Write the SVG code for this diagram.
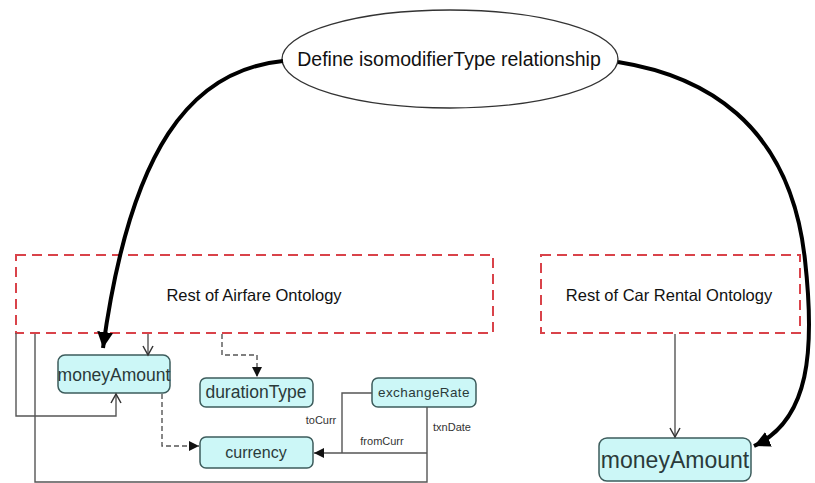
<svg xmlns="http://www.w3.org/2000/svg" width="815" height="483" viewBox="0 0 815 483">
<defs>
<style>
.node rect{fill:#ccf7f7;stroke:#3d5c5c;stroke-width:1.5}
.lbl{font-family:"Liberation Sans",Arial,sans-serif;fill:#2a3a3a;text-anchor:middle}
.small{font-family:"Liberation Sans",Arial,sans-serif;font-size:11px;fill:#333;text-anchor:middle}
.box{fill:none;stroke:#d9434a;stroke-width:2;stroke-dasharray:10,6}
.ln{fill:none;stroke:#555;stroke-width:1.4}
.dash{fill:none;stroke:#555;stroke-width:1.4;stroke-dasharray:5,3}
.big{fill:none;stroke:#000;stroke-width:4}
</style>
<marker id="open" markerWidth="12" markerHeight="12" refX="10" refY="6" orient="auto" markerUnits="userSpaceOnUse">
<path d="M1,1 L10,6 L1,11" fill="none" stroke="#333" stroke-width="1.5"/>
</marker>
<marker id="fill" markerWidth="12" markerHeight="12" refX="10" refY="6" orient="auto" markerUnits="userSpaceOnUse">
<path d="M0,1 L10,6 L0,11 Z" fill="#111"/>
</marker>
<marker id="bigarr" markerWidth="20" markerHeight="20" refX="16" refY="8" orient="auto" markerUnits="userSpaceOnUse">
<path d="M0,0 L16,8 L0,16 Z" fill="#000"/>
</marker>
</defs>
<rect width="815" height="483" fill="#fff"/>

<g id="define">
<ellipse cx="450" cy="59" rx="168" ry="49" fill="#fff" stroke="#333" stroke-width="1.3"/>
<text x="449" y="66" class="lbl" style="font-size:19.5px;fill:#111">Define isomodifierType relationship</text>
</g>

<g id="airfare">
<rect class="box" x="16" y="255" width="477" height="78"/>
<text x="254" y="301" class="lbl" style="font-size:16.5px;fill:#111">Rest of Airfare Ontology</text>
</g>

<g id="carrental">
<rect class="box" x="541" y="255" width="259" height="78"/>
<text x="669" y="301" class="lbl" style="font-size:16.5px;fill:#111">Rest of Car Rental Ontology</text>
</g>

<g id="moneyAmount1" class="node">
<rect x="58" y="355" width="112" height="38" rx="7"/>
<text x="114" y="381" class="lbl" style="font-size:17.5px">moneyAmount</text>
</g>

<g id="durationType" class="node">
<rect x="200" y="378" width="113" height="29" rx="6"/>
<text x="256" y="398" class="lbl" style="font-size:17.5px">durationType</text>
</g>

<g id="currency" class="node">
<rect x="200" y="437" width="113" height="31" rx="6"/>
<text x="256" y="458" class="lbl" style="font-size:16px">currency</text>
</g>

<g id="exchangeRate" class="node">
<rect x="372" y="378" width="104" height="29" rx="6"/>
<text x="424" y="397" class="lbl" style="font-size:13.5px;letter-spacing:0.4px">exchangeRate</text>
</g>

<g id="moneyAmount2" class="node">
<rect x="599" y="438" width="152" height="43" rx="8"/>
<text x="675" y="468" class="lbl" style="font-size:23px">moneyAmount</text>
</g>

<g id="connectors">
<path class="big" d="M283,61 C190,70 130,150 103,348" marker-end="url(#bigarr)"/>
<path class="big" d="M618,62 C700,75 790,120 805,260 C815,350 810,420 754,446" marker-end="url(#bigarr)"/>
<path class="ln" d="M148,334 L148,355" marker-end="url(#open)"/>
<path class="ln" d="M16,333 L16,416 L116,416 L116,394" marker-end="url(#open)"/>
<path class="ln" d="M35,334 L35,482 L427,482 L427,407"/>
<path class="ln" d="M427,453 L314,453" marker-end="url(#fill)"/>
<path class="ln" d="M372,393 L342,393 L342,453"/>
<path class="dash" d="M162,394 L162,446 L199,446" marker-end="url(#fill)"/>
<path class="dash" d="M222,334 L222,355 L257,355 L257,377" marker-end="url(#fill)"/>
<path class="ln" d="M675,334 L675,437" marker-end="url(#open)"/>
<text x="321" y="424" class="small">toCurr</text>
<text x="382" y="445" class="small">fromCurr</text>
<text x="452" y="431" class="small">txnDate</text>
</g>
</svg>
